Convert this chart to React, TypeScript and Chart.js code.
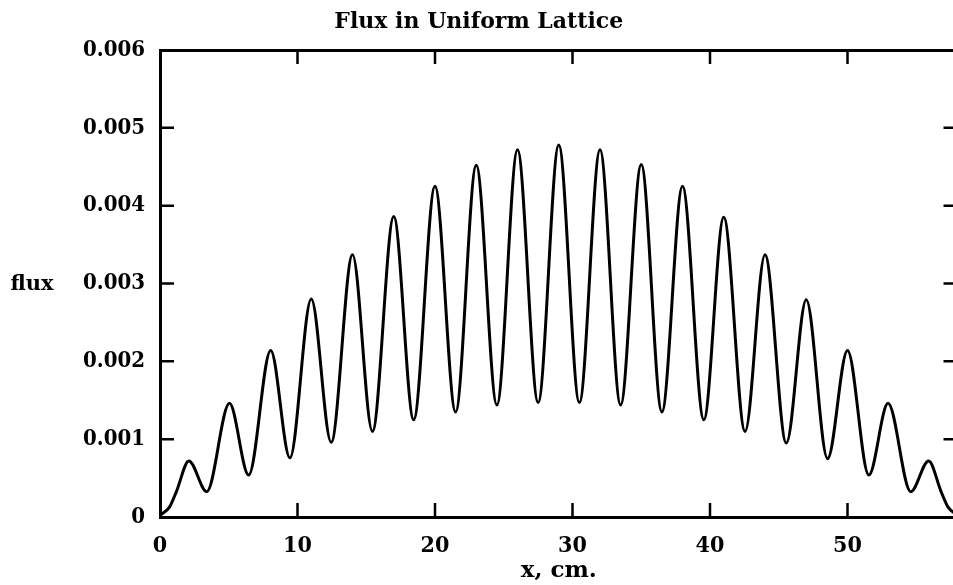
import React, { useEffect, useRef } from 'react';
import { Chart, registerables } from 'chart.js';

Chart.register(...registerables);

// Positions along the lattice (cm): ends, peaks and troughs
const positionsCm = [
  0, 0.7, 1.2, 2.1, 3.4, 5.05, 6.45, 8.05, 9.45, 11.0, 12.45, 14.0, 15.45, 17.0,
  18.45, 20.0, 21.5, 23.0, 24.5, 26.0, 27.5, 29.0, 30.5, 32.0, 33.5, 35.0, 36.5,
  38.0, 39.55, 41.0, 42.55, 44.0, 45.55, 47.0, 48.55, 50.0, 51.55, 52.95, 54.6,
  55.9, 56.8, 57.3, 58,
];

// Flux values read at those positions
const fluxValues = [
  0.00002, 0.00013, 0.00033, 0.00072, 0.000325, 0.00146, 0.00054, 0.00214, 0.00076,
  0.0028, 0.00096, 0.00337, 0.0011, 0.00386, 0.00125, 0.00425, 0.00135, 0.00452,
  0.00144, 0.00472, 0.00147, 0.00478, 0.00147, 0.00472, 0.00144, 0.00453, 0.00135,
  0.00425, 0.00125, 0.00385, 0.0011, 0.00337, 0.00095, 0.00279, 0.00075, 0.00214,
  0.00054, 0.00146, 0.000325, 0.00072, 0.00033, 0.00013, 0.00002,
];

const xTickValues = [0, 10, 20, 30, 40, 50];
const yTickValues = [0, 0.001, 0.002, 0.003, 0.004, 0.005, 0.006];

const titleText = 'Flux in Uniform Lattice';
const xAxisLabel = 'x, cm.';
const yAxisLabel = 'flux';

const TICK_FONT = '"DejaVu Serif Condensed", "DejaVu Serif", serif';
const LABEL_FONT = '"DejaVu Serif", serif';

const framePlugin = {
  id: 'frameTicks',
  afterDraw(chart: any) {
    const { ctx, chartArea: a, scales } = chart;
    const xs = scales.x;
    const ys = scales.y;
    const len = 14;
    ctx.save();
    ctx.strokeStyle = '#000';
    ctx.lineWidth = 2.5;
    ctx.beginPath();
    xTickValues.forEach((v) => {
      if (v <= xs.min || v >= xs.max) return;
      const px = xs.getPixelForValue(v);
      ctx.moveTo(px, a.bottom);
      ctx.lineTo(px, a.bottom - len);
      ctx.moveTo(px, a.top);
      ctx.lineTo(px, a.top + len);
    });
    yTickValues.forEach((v) => {
      if (v <= ys.min + 1e-12 || v >= ys.max - 1e-12) return;
      const py = ys.getPixelForValue(v);
      ctx.moveTo(a.left, py);
      ctx.lineTo(a.left + len, py);
      ctx.moveTo(a.right, py);
      ctx.lineTo(a.right - len, py);
    });
    ctx.stroke();
    ctx.fillStyle = '#000';
    ctx.font = 'bold 21px ' + LABEL_FONT;
    ctx.textAlign = 'center';
    ctx.textBaseline = 'middle';
    ctx.fillText(yAxisLabel, 32, (a.top + a.bottom) / 2 + 1);
    ctx.restore();
  },
};

export default function App() {
  const canvasRef = useRef<HTMLCanvasElement | null>(null);

  useEffect(() => {
    const canvas = canvasRef.current;
    if (!canvas) return;
    const chart = new Chart(canvas, {
      type: 'line',
      data: {
        datasets: [
          {
            data: positionsCm.map((x, i) => ({ x, y: fluxValues[i] })),
            borderColor: '#000',
            borderWidth: 3,
            pointRadius: 0,
            fill: false,
            cubicInterpolationMode: 'monotone',
          },
        ],
      },
      options: {
        animation: false,
        responsive: false,
        devicePixelRatio: 1,
        layout: { padding: { left: 0, right: 8.5, top: 0, bottom: 0 } },
        plugins: {
          legend: { display: false },
          tooltip: { enabled: false },
          title: {
            display: true,
            text: titleText,
            color: '#000',
            font: { family: LABEL_FONT, weight: 'bold', size: 22, lineHeight: 1.2 },
            padding: { top: 9, bottom: 14.6 },
          },
        },
        scales: {
          x: {
            type: 'linear',
            position: 'bottom',
            min: 0,
            max: 58,
            grid: { display: false, drawTicks: false },
            border: { display: true, color: '#000', width: 3 },
            afterFit: (s: any) => {
              s.height = 68;
            },
            afterBuildTicks: (s: any) => {
              s.ticks = xTickValues.map((value) => ({ value }));
            },
            ticks: {
              color: '#000',
              padding: 15.4,
              maxRotation: 0,
              autoSkip: false,
              font: { family: TICK_FONT, weight: 'bold', size: 23, lineHeight: 1.2 },
              callback: (v: any) => String(v),
            },
            title: {
              display: true,
              text: xAxisLabel,
              color: '#000',
              padding: { top: 0, bottom: 0 },
              font: { family: LABEL_FONT, weight: 'bold', size: 23, lineHeight: 1.2 },
            },
          },
          x2: {
            type: 'linear',
            position: 'top',
            min: 0,
            max: 58,
            grid: { display: false, drawTicks: false },
            border: { display: true, color: '#000', width: 3 },
            ticks: { display: false },
            afterFit: (s: any) => {
              s.height = 0;
            },
          },
          y: {
            type: 'linear',
            position: 'left',
            min: 0,
            max: 0.006,
            grid: { display: false, drawTicks: false },
            border: { display: true, color: '#000', width: 3 },
            afterFit: (s: any) => {
              s.width = 160;
            },
            afterBuildTicks: (s: any) => {
              s.ticks = yTickValues.map((value) => ({ value }));
            },
            ticks: {
              color: '#000',
              padding: 15,
              autoSkip: false,
              font: { family: TICK_FONT, weight: 'bold', size: 22, lineHeight: 1.2 },
              callback: (v: any) => (Math.abs(v) < 1e-12 ? '0' : Number(v).toFixed(3)),
            },
          },
        },
      },
      plugins: [framePlugin],
    } as any);
    return () => chart.destroy();
  }, []);

  return (
    <div
      style={{
        position: 'fixed',
        left: 0,
        top: 0,
        width: 953,
        height: 585,
        overflow: 'hidden',
        background: '#fff',
      }}
    >
      <canvas ref={canvasRef} width={966} height={585} style={{ width: 966, height: 585, display: 'block' }} />
    </div>
  );
}
